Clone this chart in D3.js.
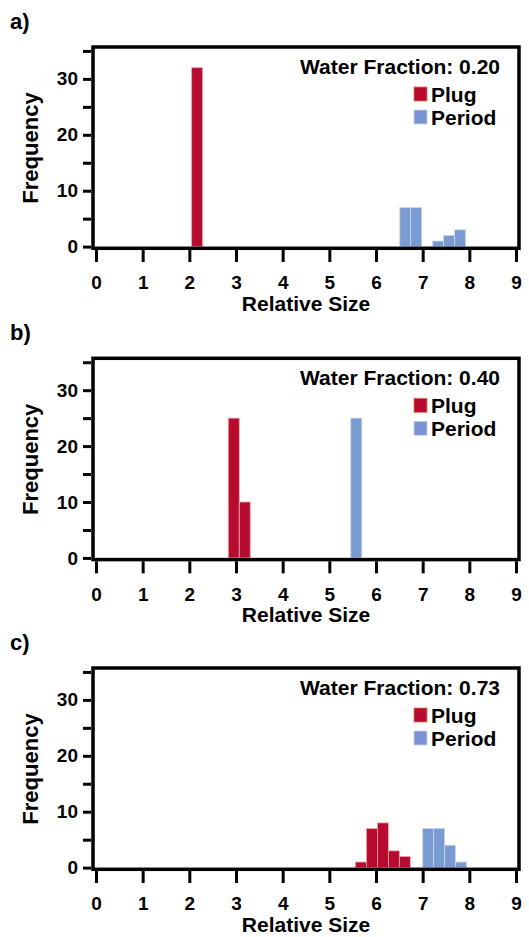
<!DOCTYPE html>
<html>
<head>
<meta charset="utf-8">
<title>relative size histograms</title>
<style>
body { margin: 0; background: #fff; }
svg text { font-family: "Liberation Sans", Arial, sans-serif; font-weight: bold; fill: #000; }
</style>
</head>
<body>
<svg width="529" height="937"></svg>
<script src="https://d3js.org/d3.v7.min.js"></script>
<script>
// data
var panelLabels = ["a)", "b)", "c)"];
var waterFractions = ["0.20", "0.40", "0.73"];
var binWidth = 0.235;

// left edge of each bin (relative size) and its count
var plugBins   = [[2.05], [2.835, 3.07], [5.56, 5.795, 6.03, 6.265, 6.50]];
var plugCounts = [[32], [25, 10], [1, 7, 8, 3, 2]];
var periodBins   = [[6.51, 6.745, 7.215, 7.45, 7.685], [5.46], [7.0, 7.235, 7.47, 7.705]];
var periodCounts = [[7, 7, 1, 2, 3], [25], [7, 7, 4, 1]];

var xTicks = [0, 1, 2, 3, 4, 5, 6, 7, 8, 9];
var yTicks = [0, 5, 10, 15, 20, 25, 30, 35];
var yLabelled = [0, 10, 20, 30];

var plugColor = "#b70b30", plugEdge = "#eea3a6";
var periodColor = "#7a9ad2", periodEdge = "#c9d6ef";

var svg = d3.select("svg");
var panelOffsets = [0, 311.3, 621];

var x = d3.scaleLinear().domain([-0.064, 9.064]).range([93, 519]);
var y = d3.scaleLinear().domain([-0.3, 35.7]).range([248.3, 47]);

panelLabels.forEach(function(lab, i) {
  var g = svg.append("g").attr("transform", "translate(0," + panelOffsets[i] + ")");

  g.append("text").attr("x", 10).attr("y", 29).style("font-size", "22px").text(lab);

  // bars
  var series = [
    {bins: plugBins[i], counts: plugCounts[i], fill: plugColor, edge: plugEdge},
    {bins: periodBins[i], counts: periodCounts[i], fill: periodColor, edge: periodEdge}
  ];
  series.forEach(function(s) {
    var rows = s.bins.map(function(b, k) { return {x0: b, n: s.counts[k]}; });
    g.append("g").selectAll("rect")
      .data(rows)
      .enter().append("rect")
        .attr("x", function(d) { return x(d.x0); })
        .attr("width", function(d) { return x(d.x0 + binWidth) - x(d.x0); })
        .attr("y", function(d) { return y(d.n); })
        .attr("height", function(d) { return y(0) - y(d.n); })
        .attr("fill", s.fill)
        .attr("stroke", s.edge)
        .attr("stroke-width", 0.8);
  });

  // frame
  g.append("rect")
    .attr("x", x.range()[0]).attr("y", y.range()[1])
    .attr("width", x.range()[1] - x.range()[0])
    .attr("height", y.range()[0] - y.range()[1])
    .attr("fill", "none").attr("stroke", "#000").attr("stroke-width", 3.5);

  // axes
  var ya = g.append("g").attr("transform", "translate(91,0)")
    .call(d3.axisLeft(y).tickValues(yTicks).tickSize(8).tickPadding(5)
      .tickFormat(function(d) { return yLabelled.indexOf(d) >= 0 ? d : ""; }));
  var xa = g.append("g").attr("transform", "translate(0,250)")
    .call(d3.axisBottom(x).tickValues(xTicks).tickSize(12).tickPadding(14));
  [ya, xa].forEach(function(a) {
    a.select(".domain").remove();
    a.selectAll(".tick line").attr("stroke", "#000").attr("stroke-width", 3);
    a.selectAll(".tick text").style("font-size", "19px").attr("fill", "#000");
  });

  g.append("text")
    .attr("transform", "translate(37.5,148) rotate(-90)")
    .attr("text-anchor", "middle").style("font-size", "22px")
    .text("Frequency");
  g.append("text")
    .attr("x", 306).attr("y", 311)
    .attr("text-anchor", "middle").style("font-size", "21px")
    .text("Relative Size");

  // legend
  g.append("text").attr("x", 500).attr("y", 74)
    .attr("text-anchor", "end").style("font-size", "21px")
    .text("Water Fraction: " + waterFractions[i]);
  var leg = [["Plug", plugColor, "#e8744f"], ["Period", "#7b93d2", periodEdge]];
  leg.forEach(function(l, k) {
    g.append("rect").attr("x", 414).attr("y", 87 + k * 23)
      .attr("width", 13).attr("height", 14)
      .attr("fill", l[1]).attr("stroke", l[2]).attr("stroke-width", 0.8);
    g.append("text").attr("x", 431).attr("y", 101.5 + k * 23)
      .style("font-size", "21px").text(l[0]);
  });
});
</script>
</body>
</html>
